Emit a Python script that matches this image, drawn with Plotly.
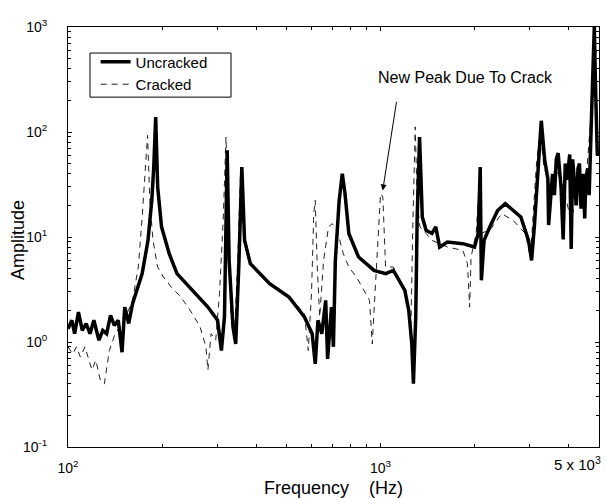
import plotly.graph_objects as go

# ---- data (Hz, amplitude) ----
uncracked_freq = [100, 102.9, 105.0, 108.0, 111.1, 114.3, 117.6, 121.0, 125.6, 129.2, 132.9, 136.8, 140.7, 144.8,
                  148.9, 151.9, 156.4, 160.9,
                  172.7, 180.3, 185.4, 188.1, 190.8, 193.6, 199.2, 210.8, 223.2, 250.0, 280.3, 300.9, 309.6, 316.7,
                  323.1, 327.7, 337.2, 344.0, 351.9, 359.9, 367.2, 383.2,
                  441.8, 509.3, 570.8, 604.2, 618.1, 630.6, 648.8, 667.5, 677.1, 696.6, 706.6, 716.8, 737.4, 754.4,
                  769.6, 791.7, 850.3, 952.8,
                  1038, 1099, 1163, 1196, 1231, 1259, 1274, 1296, 1310, 1333, 1360, 1399, 1460, 1502, 1546, 1636,
                  1834, 1998, 2054, 2084, 2102, 2144, 2238, 2369, 2507, 2655, 2811, 2975, 3043, 3105, 3194,
                  3268, 3352, 3430, 3450, 3550, 3600, 3650, 3700, 3780, 3840, 3900, 3950, 4030, 4074, 4120, 4180,
                  4230, 4283, 4330, 4380, 4450, 4500, 4540, 4600, 4650,
                  4730, 4780, 4830, 4870, 4938]
uncracked_amp = [1.34, 1.61, 1.20, 1.93, 1.29, 1.50, 1.20, 1.61, 1.04, 1.29, 1.20, 1.79, 1.44, 1.61,
                 0.80, 2.15, 1.50, 2.32,
                 4.48, 9.29, 22.4, 46.4, 139, 29.9, 12.5, 6.94, 4.48, 3.10, 2.15, 1.61, 0.83, 1.73,
                 66.9, 5.99, 1.39, 0.96, 5.18, 46.4, 9.29, 5.57,
                 3.59, 2.68, 1.73, 1.20, 0.62, 1.61, 1.20, 2.49, 0.69, 2.15, 0.90, 5.99, 22.4, 40.1,
                 25.9, 10.8, 6.45, 4.81,
                 4.48, 4.81, 3.59, 3.10, 2.00, 0.96, 0.40, 1.73, 15.5, 89.6, 15.5, 11.6, 10.8, 12.5, 8.03, 8.96,
                 8.64, 8.03, 10.8, 46.4, 3.87, 9.29, 12.5, 17.9, 20.8, 17.9, 15.5, 9.29, 5.99, 12.5, 53.7,
                 128, 53.7, 36, 13, 40, 25, 55, 63, 30, 9.5, 50, 35, 61, 7.7, 55, 30,
                 20, 45, 50, 18.6, 40, 15, 36, 45, 25,
                 137, 400, 1000, 300, 60]

cracked_freq = [100, 103.5, 106.5, 109.5, 113.3, 119.3, 122.7, 127.0, 130.7, 135.6,
                141.5, 149.8, 160.9, 167.9, 172.7, 176.7, 179.7, 182.7, 187.0, 193.6,
                202.0, 213.9, 229.7, 250.0, 264.6, 276.2, 280.3, 286.9, 296.9, 305.3,
                314.0, 320.2, 324.8, 332.2, 341.7, 349.9, 356.9, 364.2, 378.0, 417.3,
                467.2, 523.2, 570.8, 587.1, 601.3, 611.4, 618.1, 627.4, 638.7, 657.2,
                681.8, 700.0, 726.9, 760.0, 791.7, 837.2, 885.6, 921.9, 940.5, 959.8,
                981.9, 1000, 1017, 1038, 1099, 1163, 1213, 1251, 1267, 1291,
                1310, 1336, 1399, 1460, 1636, 1834, 1897, 1928, 1948, 2022,
                2054, 2084, 2238, 2441, 2655, 2906, 3017, 3149, 3240, 3333,
                3485, 3631, 3840, 4071, 4306, 4555, 4753, 4895]
cracked_amp = [0.90, 0.77, 0.90, 0.72, 0.90, 0.54, 0.67, 0.43, 0.40, 0.83,
               1.20, 1.50, 2.49, 5.18, 15.5, 46.4, 93, 22.4, 9.29, 5.18,
               4.16, 3.34, 2.68, 1.86, 1.39, 0.90, 0.54, 1.20, 1.04, 2.89,
               15.5, 89.6, 15.5, 1.73, 1.39, 6.94, 46.4, 10.8, 5.99, 4.16,
               3.10, 2.49, 1.86, 0.83, 2.89, 16.7, 22.4, 5.18, 1.73, 5.99,
               12.5, 13.4, 11.6, 6.94, 5.18, 4.16, 3.10, 2.49, 0.96, 2.89,
               10.8, 25.9, 24.0, 5.18, 5.18, 3.59, 2.49, 1.39, 10.8, 112,
               22.4, 12.5, 10.8, 9.29, 8.03, 7.45, 5.57, 2.15, 6.45, 10.8,
               22.4, 10.8, 11.6, 16.7, 14.4, 10.8, 6.45, 46.4, 104, 46.4,
               29.9, 46.4, 29.9, 14.4, 29.9, 37.3, 200, 600]

x_tick_vals = [100, 1000, 5000]
x_tick_text = ["10<sup>2</sup>", "10<sup>3</sup>", ""]
x_last_label = "5 x 10<sup>3</sup>"
y_tick_vals = [0.1, 1, 10, 100, 1000]
y_tick_text = ["10<sup>-1</sup>", "10<sup>0</sup>", "10<sup>1</sup>", "10<sup>2</sup>", "10<sup>3</sup>"]

x_minor = [m * 10 ** e for e in (2, 3) for m in range(2, 10) if m * 10 ** e < 5000]
y_minor = [m * 10 ** e for e in (-1, 0, 1, 2) for m in range(2, 10)]

FONT = "Liberation Sans, Arial, sans-serif"

fig = go.Figure()
fig.add_trace(go.Scatter(x=cracked_freq, y=cracked_amp, mode="lines", name="Cracked",
                         line=dict(color="#222222", width=1, dash="6px,5px"), legendrank=2))
fig.add_trace(go.Scatter(x=uncracked_freq, y=uncracked_amp, mode="lines", name="Uncracked",
                         line=dict(color="black", width=3.5), legendrank=1))

axis_common = dict(showline=True, linecolor="black", linewidth=1, mirror="ticks", ticks="inside",
                   ticklen=4, tickcolor="black", showgrid=False, zeroline=False, automargin=False,
                   tickfont=dict(family=FONT, size=14, color="black"))

fig.update_xaxes(type="log", range=[2, 3.69897], tickmode="array", tickvals=x_tick_vals,
                 ticktext=x_tick_text, ticklabelstandoff=8,
                 minor=dict(tickmode="array", tickvals=x_minor, ticks="inside", ticklen=3, tickcolor="black"),
                 title=dict(text="Frequency \u00a0\u00a0\u00a0(Hz)", font=dict(family=FONT, size=18, color="black"),
                            standoff=6),
                 **axis_common)
fig.update_yaxes(type="log", range=[-1, 3], tickmode="array", tickvals=y_tick_vals,
                 ticktext=y_tick_text, ticklabelstandoff=17,
                 minor=dict(tickmode="array", tickvals=y_minor, ticks="inside", ticklen=3, tickcolor="black"),
                 **axis_common)

# y-axis title placed explicitly
fig.add_annotation(x=-0.094, y=0.493, xref="paper", yref="paper", text="Amplitude", textangle=-90,
                   showarrow=False, font=dict(family=FONT, size=18, color="black"),
                   xanchor="center", yanchor="middle")
fig.add_annotation(x=3.007, y=1.444, xref="x", yref="y", text="", showarrow=True,
                   ax=14, ay=-90, arrowhead=2, arrowsize=1.2, arrowwidth=1, arrowcolor="black")
fig.add_annotation(x=0.749, y=0.88, xref="paper", yref="paper", text="New Peak Due To Crack",
                   showarrow=False, font=dict(family=FONT, size=16, color="black"),
                   xanchor="center", yanchor="middle")
fig.add_annotation(x=1.008, y=-0.04, xref="paper", yref="paper", text=x_last_label,
                   showarrow=False, font=dict(family=FONT, size=15, color="black"),
                   xanchor="right", yanchor="middle")

# legend frame
fig.add_shape(type="rect", xref="paper", yref="paper", x0=0.0414, x1=0.307, y0=0.833, y1=0.938,
              line=dict(color="black", width=1), fillcolor="rgba(0,0,0,0)", layer="above")

fig.update_layout(
    width=606, height=498,
    margin=dict(l=68, r=7, t=27, b=51),
    paper_bgcolor="white", plot_bgcolor="white",
    showlegend=True,
    legend=dict(x=0.052, y=0.956, xanchor="left", yanchor="top", borderwidth=0,
                bgcolor="rgba(0,0,0,0)", font=dict(family=FONT, size=15, color="black"),
                itemwidth=30, tracegroupgap=0),
)

fig.write_html("out.html", config={"displayModeBar": False},
               post_script="document.body.style.margin='0';document.body.style.overflow='hidden';")
